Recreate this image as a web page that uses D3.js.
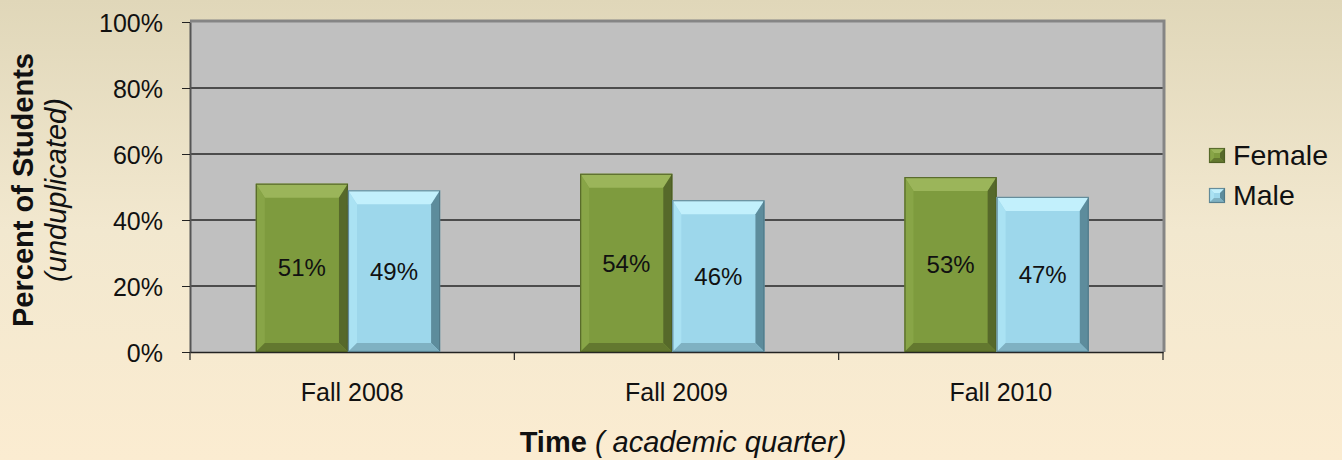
<!DOCTYPE html>
<html>
<head>
<meta charset="utf-8">
<script src="https://cdn.jsdelivr.net/npm/d3@7"></script>
<style>
  body { margin: 0; }
  svg { display: block; font-family: Arial, "Liberation Sans", sans-serif; }
</style>
</head>
<body>
<svg width="1342" height="460"></svg>
<script>
let quarters = ["Fall 2008", "Fall 2009", "Fall 2010"],
    seriesNames = ["Female", "Male"],
    female = [51, 54, 53],
    male = [49, 46, 47],
    yTicks = [0, 20, 40, 60, 80, 100];

let svg = d3.select("svg"),
    width = 1342,
    height = 460,
    font = "Arial, 'Liberation Sans', sans-serif";

let margin = {left: 190, right: 179, top: 22, bottom: 108};

let x = d3.scaleBand()
    .domain(quarters)
    .range([margin.left, width - margin.right])
    .paddingInner(0)
    .paddingOuter(0);

let inner = d3.scaleBand()
    .domain(seriesNames)
    .range([0, x.bandwidth()])
    .paddingOuter(0.76)
    .paddingInner(0)
    .align(0.47);

let y = d3.scaleLinear()
    .domain([0, 100])
    .range([height - margin.bottom, margin.top]);

let colors = {
  Female: {main: "#7e9b3e", top: "#9bb55a", left: "#88a547", right: "#56692a", bottom: "#63782f", edge: "#4a5a22"},
  Male:   {main: "#9dd7eb", top: "#c2f0fc", left: "#aae2f3", right: "#5d8c9c", bottom: "#7fb1c2", edge: "#4f7482"}
};

// background
let defs = svg.append("defs");
let bg = defs.append("linearGradient")
    .attr("id", "bg")
    .attr("x1", 0).attr("y1", 0).attr("x2", 0).attr("y2", 1);
bg.append("stop").attr("offset", 0).attr("stop-color", "#e0d7b9");
bg.append("stop").attr("offset", 0.5).attr("stop-color", "#f2e8cf");
bg.append("stop").attr("offset", 1).attr("stop-color", "#fbecd1");

svg.append("rect")
    .attr("width", width)
    .attr("height", height)
    .attr("fill", "url(#bg)");

// plot area
let x0 = margin.left, x1 = width - margin.right,
    yTop = y(100), yBot = y(0);

svg.append("rect")
    .attr("x", x0)
    .attr("y", yTop)
    .attr("width", x1 - x0)
    .attr("height", yBot - yTop)
    .attr("fill", "#c0c0c0");

// gridlines
svg.append("g")
    .selectAll("line")
    .data(yTicks.filter(d => d > 0 && d < 100))
  .join("line")
    .attr("x1", x0)
    .attr("x2", x1)
    .attr("y1", d => y(d))
    .attr("y2", d => y(d))
    .attr("stroke", "#262626")
    .attr("stroke-width", 1.3);

// 3d border on top and right
svg.append("path")
    .attr("d", `M${x0},${yTop - 1}H${x1 + 1}V${yBot}`)
    .attr("fill", "none")
    .attr("stroke", "#858585")
    .attr("stroke-width", 3);

// y axis
let yAxis = svg.append("g")
    .attr("transform", `translate(${x0},0)`)
    .call(d3.axisLeft(y).tickValues(yTicks).tickFormat(d => d + "%").tickSize(8).tickSizeOuter(0));
yAxis.select(".domain").attr("stroke", "#555").attr("stroke-width", 2);
yAxis.selectAll(".tick line").attr("stroke", "#222");
yAxis.selectAll(".tick text")
    .attr("x", -27)
    .attr("dy", "0.36em")
    .attr("font-size", 25)
    .attr("fill", "#111")
    .attr("font-family", font);

// x axis
let xAxis = svg.append("g")
    .attr("transform", `translate(0,${yBot})`)
    .call(d3.axisBottom(x).tickSize(0).tickSizeOuter(0));
xAxis.select(".domain").attr("stroke", "#222").attr("stroke-width", 1.5);
xAxis.selectAll(".tick text")
    .attr("y", 49)
    .attr("dy", 0)
    .attr("font-size", 25)
    .attr("fill", "#111")
    .attr("font-family", font);

// category boundary ticks
svg.append("g")
    .selectAll("line")
    .data(quarters.concat(["end"]))
  .join("line")
    .attr("x1", (d, i) => i < quarters.length ? x(d) : x1)
    .attr("x2", (d, i) => i < quarters.length ? x(d) : x1)
    .attr("y1", yBot)
    .attr("y2", yBot + 8)
    .attr("stroke", "#222")
    .attr("stroke-width", 1.2);

// bars
let rows = [];
quarters.forEach((q, i) => {
  rows.push({q: q, s: "Female", v: female[i]});
  rows.push({q: q, s: "Male", v: male[i]});
});

function bevel(g, bx, by, bw, bh, c, t, sd, b) {
  let xr = bx + bw, yb = by + bh;
  g.append("rect").attr("x", bx).attr("y", by).attr("width", bw).attr("height", bh).attr("fill", c.main);
  g.append("polygon").attr("fill", c.top)
      .attr("points", [[bx, by], [xr, by], [xr - sd, by + t], [bx + sd, by + t]].join(" "));
  g.append("polygon").attr("fill", c.left)
      .attr("points", [[bx, by], [bx + sd, by + t], [bx + sd, yb - b], [bx, yb]].join(" "));
  g.append("polygon").attr("fill", c.right)
      .attr("points", [[xr, by], [xr, yb], [xr - sd, yb - b], [xr - sd, by + t]].join(" "));
  g.append("polygon").attr("fill", c.bottom)
      .attr("points", [[bx, yb], [bx + sd, yb - b], [xr - sd, yb - b], [xr, yb]].join(" "));
  g.append("rect").attr("x", bx + 0.5).attr("y", by + 0.5).attr("width", bw - 1).attr("height", bh - 1)
      .attr("fill", "none").attr("stroke", c.edge).attr("stroke-width", 1.2).attr("stroke-opacity", 0.8);
}

let barsG = svg.append("g");
rows.forEach(d => {
  let bx = x(d.q) + inner(d.s),
      bw = inner.bandwidth(),
      by = y(d.v),
      bh = yBot - by;
  bevel(barsG.append("g"), bx, by, bw, bh, colors[d.s], 14, 9, 9);
  barsG.append("text")
      .attr("x", bx + bw / 2)
      .attr("y", by + bh / 2)
      .attr("dy", "0.36em")
      .attr("text-anchor", "middle")
      .attr("font-size", 24)
      .attr("fill", "#111")
      .text(d.v + "%");
});

// y axis title
let yt = svg.append("text")
    .attr("transform", "translate(33,190) rotate(-90)")
    .attr("text-anchor", "middle")
    .attr("font-size", 29)
    .attr("fill", "#111");
yt.append("tspan").attr("x", 0).attr("font-weight", "bold").text("Percent of Students");
yt.append("tspan").attr("x", 0).attr("dy", 33).attr("font-style", "italic").text("(unduplicated)");

// x axis title
let xt = svg.append("text")
    .attr("x", 683)
    .attr("y", 452)
    .attr("text-anchor", "middle")
    .attr("font-size", 29)
    .attr("fill", "#111");
xt.append("tspan").attr("font-weight", "bold").text("Time");
xt.append("tspan").attr("font-style", "italic").text(" ( academic quarter)");

// legend
let legend = svg.append("g");
seriesNames.forEach((s, i) => {
  let ly = 148 + i * 40;
  bevel(legend.append("g"), 1209, ly, 16, 15, colors[s], 5, 5, 5);
  legend.append("text")
      .attr("x", 1233)
      .attr("y", ly + 17)
      .attr("font-size", 28.5)
      .attr("fill", "#111")
      .text(s);
});
</script>
</body>
</html>
